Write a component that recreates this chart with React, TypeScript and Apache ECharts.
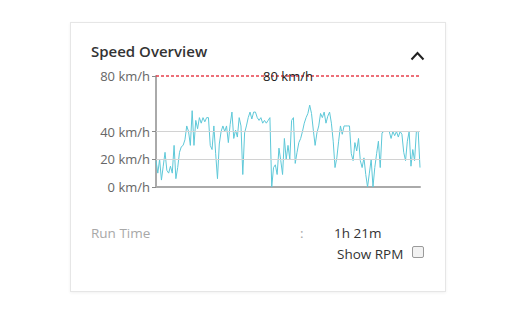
import React, { useEffect, useRef } from "react";
import * as echarts from "echarts";

const speedValues: number[] = [
  19, 10, 20, 5, 15, 25, 12, 10, 15, 10, 30, 6, 14, 25, 29, 30, 34, 44, 40, 30,
  55, 30, 48, 42, 50, 46, 50, 47, 50, 50, 30, 27, 44, 24, 6, 31, 40, 44, 40, 44,
  32, 45, 54, 35, 41, 36, 50, 44, 9, 39, 44, 50, 54, 49, 54, 54, 50, 48, 50, 46,
  48, 46, 48, 50, 0, 14, 16, 9, 28, 19, 9, 35, 20, 30, 20, 48, 50, 17, 25, 32,
  35, 40, 46, 50, 53, 59, 53, 41, 30, 39, 44, 53, 50, 54, 46, 51, 54, 46, 33, 14,
  21, 33, 44, 38, 44, 44, 44, 44, 24, 19, 32, 26, 35, 19, 14, 21, 9, 0, 10, 20,
  0, 14, 24, 33, 14, 39, 40, 40, 40, 40, 35, 40, 37, 40, 36, 40, 38, 25, 19, 33,
  40, 15, 27, 19, 40, 40, 14,
];
const yTickValues: number[] = [0, 20, 40, 80];
const gridValues: number[] = [20, 40];
const limitValue = 80;
const unit = "km/h";
const title = "Speed Overview";
const runTimeLabel = "Run Time";
const runTimeValue = "1h 21m";
const rpmLabel = "Show RPM";

const FONT = '"Open Sans", "Noto Sans", sans-serif';

function SpeedChart() {
  const ref = useRef<HTMLDivElement>(null);
  useEffect(() => {
    const chart = echarts.init(ref.current!, null, { renderer: "svg" });
    chart.setOption({
      animation: false,
      grid: { left: 76, right: 20, top: 14, bottom: 10 },
      xAxis: {
        type: "category",
        boundaryGap: false,
        data: speedValues.map((_, i) => String(i)),
        axisLine: { show: true, lineStyle: { color: "#aaaaaa", width: 2 } },
        axisTick: { show: false },
        axisLabel: { show: false },
        splitLine: { show: false },
      },
      yAxis: {
        type: "value",
        min: 0,
        max: 80,
        interval: 20,
        axisLine: { show: true, lineStyle: { color: "#aaaaaa", width: 2 } },
        axisTick: {
          show: true,
          length: 4,
          customValues: yTickValues,
          lineStyle: { color: "#8a8a8a" },
        },
        axisLabel: {
          customValues: yTickValues,
          formatter: (v: number) => `${v} ${unit}`,
          color: "#666666",
          fontSize: 13,
          fontFamily: FONT,
          margin: 6,
        },
        splitLine: { show: false },
      },
      series: [
        {
          type: "line",
          data: speedValues,
          symbol: "none",
          lineStyle: { color: "#5ec8d8", width: 1 },
          markLine: {
            symbol: "none",
            silent: true,
            data: [
              ...gridValues.map((v) => ({
                yAxis: v,
                lineStyle: { color: "#d2d2d2", type: "solid", width: 1 },
                label: { show: false },
              })),
              {
                yAxis: limitValue,
                lineStyle: { color: "#e8404c", type: [3, 2], width: 1.5 },
                label: {
                  show: true,
                  position: "middle",
                  verticalAlign: "middle",
                  distance: 0,
                  formatter: `${limitValue} ${unit}`,
                  color: "#222222",
                  fontSize: 13,
                  fontFamily: FONT,
                },
              },
            ],
          },
        },
      ],
    });
    return () => chart.dispose();
  }, []);
  return (
    <div
      ref={ref}
      style={{ position: "absolute", left: 80, top: 62, width: 360, height: 135 }}
    />
  );
}

export default function App() {
  return (
    <div
      style={{
        position: "absolute",
        left: 0,
        top: 0,
        width: 516,
        height: 318,
        background: "#ffffff",
        fontFamily: FONT,
        overflow: "hidden",
      }}
    >
      <div
        style={{
          position: "absolute",
          left: 70,
          top: 22,
          width: 374,
          height: 268,
          border: "1px solid #e6e6e6",
          boxShadow: "0 1px 3px rgba(0,0,0,0.06)",
          background: "#fff",
        }}
      />
      <div
        style={{
          position: "absolute",
          left: 91,
          top: 41,
          fontSize: 15,
          fontWeight: 600,
          color: "#333",
          lineHeight: "20px",
          whiteSpace: "nowrap",
        }}
      >
        {title}
      </div>
      <svg
        style={{ position: "absolute", left: 408, top: 49 }}
        width={18}
        height={14}
      >
        <polyline
          points="3.5,10.5 9.5,4 15.5,10.5"
          fill="none"
          stroke="#222"
          strokeWidth={2}
        />
      </svg>
      <SpeedChart />
      <div
        style={{
          position: "absolute",
          left: 91,
          top: 224,
          fontSize: 13.5,
          color: "#a8a8a8",
          lineHeight: "18px",
          whiteSpace: "nowrap",
        }}
      >
        {runTimeLabel}
      </div>
      <div
        style={{
          position: "absolute",
          left: 300,
          top: 224,
          fontSize: 13.5,
          color: "#a8a8a8",
          lineHeight: "18px",
        }}
      >
        :
      </div>
      <div
        style={{
          position: "absolute",
          left: 334,
          top: 224,
          fontSize: 13.5,
          color: "#333",
          lineHeight: "18px",
          whiteSpace: "nowrap",
        }}
      >
        {runTimeValue}
      </div>
      <div
        style={{
          position: "absolute",
          left: 337,
          top: 245,
          fontSize: 13.5,
          color: "#333",
          lineHeight: "18px",
          whiteSpace: "nowrap",
        }}
      >
        {rpmLabel}
      </div>
      <div
        style={{
          position: "absolute",
          left: 412,
          top: 246,
          width: 10,
          height: 10,
          border: "1px solid #9a9a9a",
          borderRadius: 2,
          background: "#f2f2f2",
        }}
      />
    </div>
  );
}
